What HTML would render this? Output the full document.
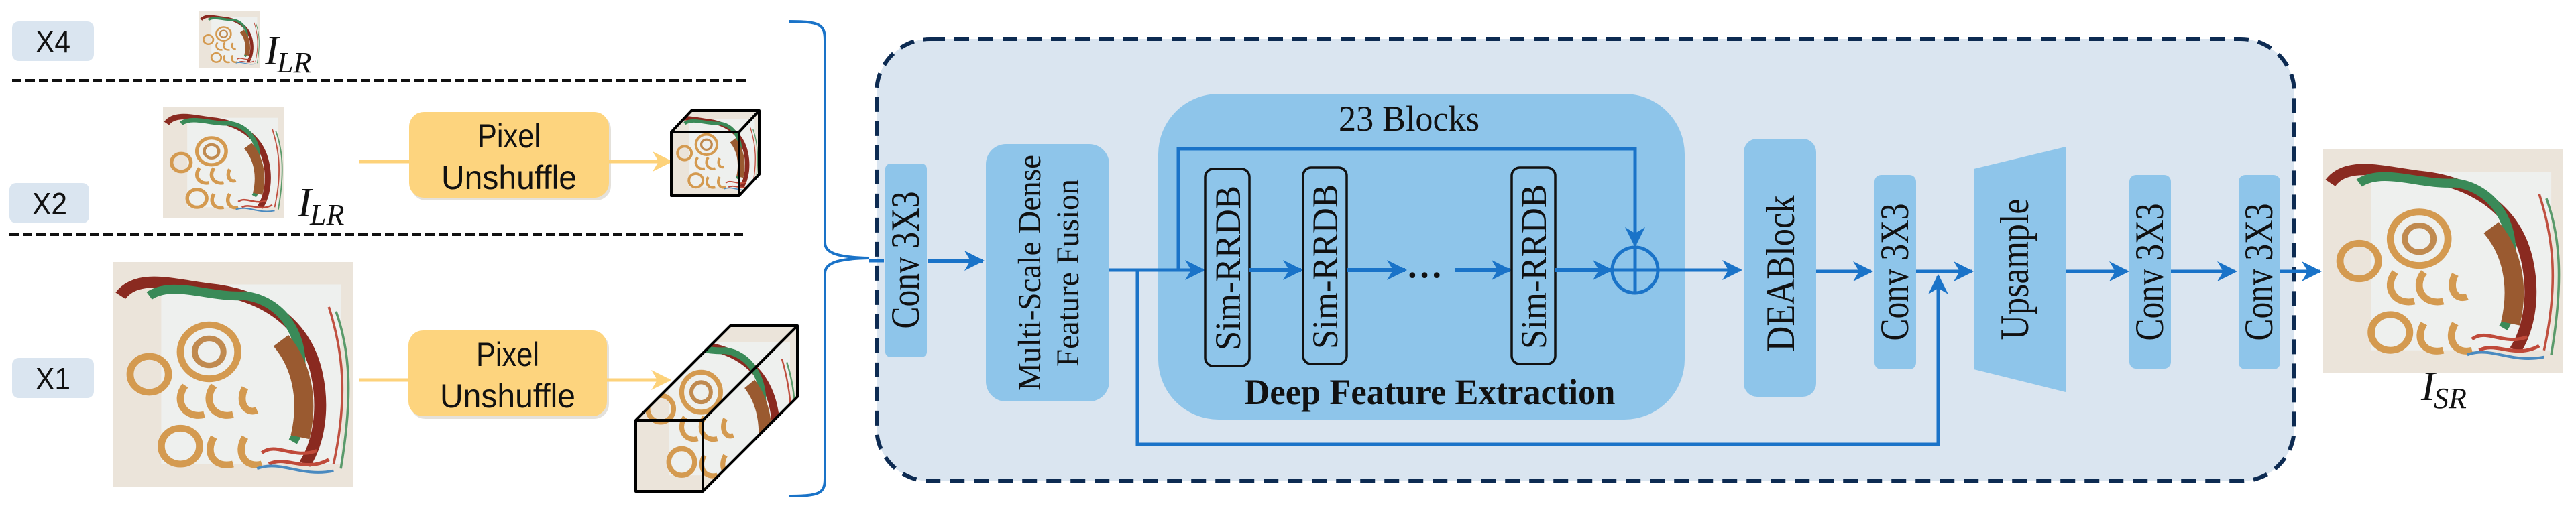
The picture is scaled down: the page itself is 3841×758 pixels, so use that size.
<!DOCTYPE html>
<html><head><meta charset="utf-8"><style>
html,body{margin:0;padding:0;background:#fff}
svg{display:block}
</style></head><body>
<svg width="3841" height="758" viewBox="0 0 3841 758" xmlns="http://www.w3.org/2000/svg">
<defs>
<marker id="ab2" viewBox="0 0 20 20" refX="18" refY="10" markerWidth="30" markerHeight="30" markerUnits="userSpaceOnUse" orient="auto">
<path d="M0,0 L20,10 L0,20 L6,10 Z" fill="#1a73c8"/></marker>
<marker id="ay" viewBox="0 0 20 20" refX="18" refY="10" markerWidth="30" markerHeight="30" markerUnits="userSpaceOnUse" orient="auto">
<path d="M0,0 L20,10 L0,20 L6,10 Z" fill="#fdd27a"/></marker>
<clipPath id="c1"><path d="M1001,197 L1031,165 L1132,165 L1132,260 L1102,292 L1001,292 Z"/></clipPath>
<clipPath id="c2"><path d="M948,627 L1089,486 L1189,486 L1189,592 L1048,733 L948,733 Z"/></clipPath>
<symbol id="paint" viewBox="0 0 100 100" preserveAspectRatio="none">
<rect width="100" height="100" fill="#ebe4da"/>
<rect x="20" y="10" width="75" height="80" fill="#eef0ee"/>
<path d="M3,15 C10,5 25,10 40,12 C60,14 80,25 85,50 C88,65 86,80 80,90" stroke="#8a2a20" stroke-width="5" fill="none"/>
<path d="M15,15 C25,8 40,16 55,15 C70,17 80,32 78,50 C77,62 80,72 75,80" stroke="#3a8a58" stroke-width="4" fill="none"/>
<path d="M70,35 C78,45 82,60 78,78" stroke="#9a5a30" stroke-width="8" fill="none"/>
<path d="M90,20 C96,40 98,60 92,90" stroke="#c05040" stroke-width="1" fill="none"/>
<path d="M93,22 C99,40 100,60 95,92" stroke="#5a9a6a" stroke-width="1" fill="none"/>
<circle cx="40" cy="40" r="12" stroke="#d49a50" stroke-width="3" fill="none"/>
<circle cx="40" cy="40" r="6" stroke="#c08a50" stroke-width="2.5" fill="none"/>
<circle cx="15" cy="50" r="8" stroke="#d49a50" stroke-width="3" fill="none"/>
<path d="M30,55 C25,62 30,70 38,68 M42,55 C37,62 42,70 50,68 M55,56 C52,62 55,68 60,66" stroke="#d49a50" stroke-width="3" fill="none"/>
<circle cx="28" cy="82" r="8" stroke="#d49a50" stroke-width="3" fill="none"/>
<path d="M42,78 C38,85 42,92 50,90 M55,78 C51,85 55,92 62,90" stroke="#d49a50" stroke-width="3" fill="none"/>
<path d="M62,85 C68,80 75,88 85,84 M65,90 C72,86 80,94 90,88" stroke="#c04a3a" stroke-width="1.5" fill="none"/>
<path d="M60,92 C70,88 78,96 92,93" stroke="#4a8ac0" stroke-width="1.2" fill="none"/>
</symbol>
</defs>

<!-- left panel -->
<rect x="18" y="32" width="122" height="59" rx="10" fill="#dae5f0"/>
<text x="53" y="78" font-family="Liberation Sans, sans-serif" font-size="46" textLength="52" lengthAdjust="spacingAndGlyphs" fill="#111">X4</text>
<use href="#paint" x="297" y="17" width="91" height="84"/>
<text x="395" y="96" font-family="Liberation Serif, serif" font-style="italic" font-size="62" fill="#111">I</text>
<text x="413" y="108" font-family="Liberation Serif, serif" font-style="italic" font-size="44" fill="#111">LR</text>
<line x1="18" y1="120" x2="1113" y2="120" stroke="#111" stroke-width="4" stroke-dasharray="14,6"/>

<use href="#paint" x="243" y="159" width="181" height="167"/>
<text x="444" y="323" font-family="Liberation Serif, serif" font-style="italic" font-size="62" fill="#111">I</text>
<text x="462" y="335" font-family="Liberation Serif, serif" font-style="italic" font-size="44" fill="#111">LR</text>
<rect x="14" y="273" width="119" height="60" rx="10" fill="#dae5f0"/>
<text x="48" y="320" font-family="Liberation Sans, sans-serif" font-size="46" textLength="52" lengthAdjust="spacingAndGlyphs" fill="#111">X2</text>
<line x1="536" y1="241" x2="610" y2="241" stroke="#fdd27a" stroke-width="5"/>
<rect x="613" y="171" width="298" height="128" rx="22" fill="#c9c3b8" opacity="0.5"/>
<rect x="610" y="167" width="298" height="128" rx="22" fill="#fdd47e"/>
<text x="759" y="220" font-family="Liberation Sans, sans-serif" font-size="50" text-anchor="middle" textLength="94" lengthAdjust="spacingAndGlyphs" fill="#111">Pixel</text>
<text x="759" y="282" font-family="Liberation Sans, sans-serif" font-size="50" text-anchor="middle" textLength="202" lengthAdjust="spacingAndGlyphs" fill="#111">Unshuffle</text>
<line x1="908" y1="241" x2="1000" y2="241" stroke="#fdd27a" stroke-width="5" marker-end="url(#ay)"/>
<!-- small cube -->
<g clip-path="url(#c1)"><use href="#paint" x="1001" y="165" width="131" height="127"/></g>
<path d="M1001,197 L1031,165 L1132,165 L1132,260 L1102,292 L1001,292 Z M1001,197 L1102,197 L1132,165 M1102,197 L1102,292" fill="none" stroke="#000" stroke-width="4" stroke-linejoin="round"/>
<line x1="14" y1="350" x2="1109" y2="350" stroke="#111" stroke-width="4" stroke-dasharray="14,6"/>

<rect x="18" y="534" width="122" height="60" rx="10" fill="#dae5f0"/>
<text x="53" y="581" font-family="Liberation Sans, sans-serif" font-size="46" textLength="52" lengthAdjust="spacingAndGlyphs" fill="#111">X1</text>
<use href="#paint" x="169" y="391" width="357" height="335"/>
<line x1="535" y1="567" x2="609" y2="567" stroke="#fdd27a" stroke-width="5"/>
<rect x="612" y="497" width="296" height="128" rx="22" fill="#c9c3b8" opacity="0.5"/>
<rect x="609" y="493" width="296" height="128" rx="22" fill="#fdd47e"/>
<text x="757" y="546" font-family="Liberation Sans, sans-serif" font-size="50" text-anchor="middle" textLength="94" lengthAdjust="spacingAndGlyphs" fill="#111">Pixel</text>
<text x="757" y="608" font-family="Liberation Sans, sans-serif" font-size="50" text-anchor="middle" textLength="202" lengthAdjust="spacingAndGlyphs" fill="#111">Unshuffle</text>
<line x1="905" y1="567" x2="998" y2="567" stroke="#fdd27a" stroke-width="5" marker-end="url(#ay)"/>
<!-- long cube -->
<g clip-path="url(#c2)"><use href="#paint" x="949" y="486" width="241" height="248"/></g>
<path d="M948,627 L1089,486 L1189,486 L1189,592 L1048,733 L948,733 Z M948,627 L1048,627 L1189,486 M1048,627 L1048,733" fill="none" stroke="#000" stroke-width="4" stroke-linejoin="round"/>

<!-- brace -->
<path d="M1176,32 C1222,32 1230,36 1230,60 L1230,362 C1230,378 1250,384 1296,385 C1250,386 1230,392 1230,408 L1230,714 C1230,736 1222,740 1176,740" fill="none" stroke="#1a73c8" stroke-width="4"/>

<!-- main panel -->
<rect x="1307" y="58" width="2114" height="660" rx="80" fill="#dae5f0" stroke="#0d2b52" stroke-width="6" stroke-dasharray="22,14"/>
<line x1="1296" y1="389" x2="1318" y2="389" stroke="#1a73c8" stroke-width="5"/>
<rect x="1320" y="244" width="62" height="289" rx="8" fill="#8ec5ea"/>
<text transform="translate(1370,388) rotate(-90)" font-family="Liberation Serif, serif" font-size="60" text-anchor="middle" textLength="205" lengthAdjust="spacingAndGlyphs" fill="#111">Conv 3X3</text>
<line x1="1383" y1="389" x2="1465" y2="389" stroke="#1a73c8" stroke-width="6" marker-end="url(#ab2)"/>

<rect x="1470" y="215" width="184" height="384" rx="30" fill="#8ec5ea"/>
<text transform="translate(1551,407) rotate(-90)" font-family="Liberation Serif, serif" font-size="48" text-anchor="middle" textLength="352" lengthAdjust="spacingAndGlyphs" fill="#111">Multi-Scale Dense</text>
<text transform="translate(1608,407) rotate(-90)" font-family="Liberation Serif, serif" font-size="48" text-anchor="middle" textLength="280" lengthAdjust="spacingAndGlyphs" fill="#111">Feature Fusion</text>

<rect x="1727" y="140" width="785" height="486" rx="90" fill="#8ec5ea"/>
<text x="2101" y="195" font-family="Liberation Serif, serif" font-size="54" text-anchor="middle" textLength="210" lengthAdjust="spacingAndGlyphs" fill="#111">23 Blocks</text>
<text x="2132" y="603" font-family="Liberation Serif, serif" font-weight="bold" font-size="54" text-anchor="middle" textLength="553" lengthAdjust="spacingAndGlyphs" fill="#111">Deep Feature Extraction</text>

<line x1="1654" y1="403" x2="1794" y2="403" stroke="#1a73c8" stroke-width="5" marker-end="url(#ab2)"/>
<polyline points="1757,403 1757,222 2438,222 2438,366" fill="none" stroke="#1a73c8" stroke-width="5" marker-end="url(#ab2)"/>
<polyline points="1696,403 1696,663 2890,663 2890,412" fill="none" stroke="#1a73c8" stroke-width="5" marker-end="url(#ab2)"/>

<rect x="1797" y="252" width="66" height="294" rx="12" fill="none" stroke="#111" stroke-width="3.5"/>
<text transform="translate(1849,400) rotate(-90)" font-family="Liberation Serif, serif" font-size="54" text-anchor="middle" textLength="246" lengthAdjust="spacingAndGlyphs" fill="#111">Sim-RRDB</text>
<line x1="1863" y1="403" x2="1940" y2="403" stroke="#1a73c8" stroke-width="6" marker-end="url(#ab2)"/>
<rect x="1943" y="250" width="65" height="293" rx="12" fill="none" stroke="#111" stroke-width="3.5"/>
<text transform="translate(1994,398) rotate(-90)" font-family="Liberation Serif, serif" font-size="54" text-anchor="middle" textLength="246" lengthAdjust="spacingAndGlyphs" fill="#111">Sim-RRDB</text>
<line x1="2008" y1="403" x2="2095" y2="403" stroke="#1a73c8" stroke-width="6" marker-end="url(#ab2)"/>
<text x="2124" y="414" font-family="Liberation Serif, serif" font-weight="bold" font-size="54" text-anchor="middle" fill="#111">…</text>
<line x1="2170" y1="403" x2="2251" y2="403" stroke="#1a73c8" stroke-width="6" marker-end="url(#ab2)"/>
<rect x="2254" y="250" width="65" height="293" rx="12" fill="none" stroke="#111" stroke-width="3.5"/>
<text transform="translate(2305,398) rotate(-90)" font-family="Liberation Serif, serif" font-size="54" text-anchor="middle" textLength="246" lengthAdjust="spacingAndGlyphs" fill="#111">Sim-RRDB</text>
<line x1="2319" y1="403" x2="2402" y2="403" stroke="#1a73c8" stroke-width="6" marker-end="url(#ab2)"/>
<circle cx="2438" cy="403" r="34" fill="none" stroke="#1a73c8" stroke-width="5"/>
<line x1="2404" y1="403" x2="2472" y2="403" stroke="#1a73c8" stroke-width="5"/>
<line x1="2438" y1="369" x2="2438" y2="437" stroke="#1a73c8" stroke-width="5"/>
<line x1="2472" y1="403" x2="2595" y2="403" stroke="#1a73c8" stroke-width="5" marker-end="url(#ab2)"/>

<rect x="2600" y="207" width="108" height="385" rx="20" fill="#8ec5ea"/>
<text transform="translate(2675,408) rotate(-90)" font-family="Liberation Serif, serif" font-size="60" text-anchor="middle" textLength="233" lengthAdjust="spacingAndGlyphs" fill="#111">DEABlock</text>
<line x1="2708" y1="405" x2="2790" y2="405" stroke="#1a73c8" stroke-width="5" marker-end="url(#ab2)"/>
<rect x="2795" y="261" width="62" height="290" rx="10" fill="#8ec5ea"/>
<text transform="translate(2845,406) rotate(-90)" font-family="Liberation Serif, serif" font-size="60" text-anchor="middle" textLength="205" lengthAdjust="spacingAndGlyphs" fill="#111">Conv 3X3</text>
<line x1="2857" y1="405" x2="2940" y2="405" stroke="#1a73c8" stroke-width="5" marker-end="url(#ab2)"/>
<polygon points="2943,252 3080,219 3080,585 2943,551" fill="#8ec5ea"/>
<text transform="translate(3024,402) rotate(-90)" font-family="Liberation Serif, serif" font-size="60" text-anchor="middle" textLength="211" lengthAdjust="spacingAndGlyphs" fill="#111">Upsample</text>
<line x1="3080" y1="405" x2="3172" y2="405" stroke="#1a73c8" stroke-width="5" marker-end="url(#ab2)"/>
<rect x="3175" y="261" width="62" height="289" rx="10" fill="#8ec5ea"/>
<text transform="translate(3225,406) rotate(-90)" font-family="Liberation Serif, serif" font-size="60" text-anchor="middle" textLength="205" lengthAdjust="spacingAndGlyphs" fill="#111">Conv 3X3</text>
<line x1="3237" y1="405" x2="3333" y2="405" stroke="#1a73c8" stroke-width="5" marker-end="url(#ab2)"/>
<rect x="3338" y="261" width="62" height="290" rx="10" fill="#8ec5ea"/>
<text transform="translate(3388,406) rotate(-90)" font-family="Liberation Serif, serif" font-size="60" text-anchor="middle" textLength="205" lengthAdjust="spacingAndGlyphs" fill="#111">Conv 3X3</text>
<line x1="3400" y1="405" x2="3459" y2="405" stroke="#1a73c8" stroke-width="5" marker-end="url(#ab2)"/>

<use href="#paint" x="3464" y="223" width="358" height="333"/>
<text x="3610" y="597" font-family="Liberation Serif, serif" font-style="italic" font-size="62" fill="#111">I</text>
<text x="3629" y="609" font-family="Liberation Serif, serif" font-style="italic" font-size="44" fill="#111">SR</text>
</svg>
</body></html>
